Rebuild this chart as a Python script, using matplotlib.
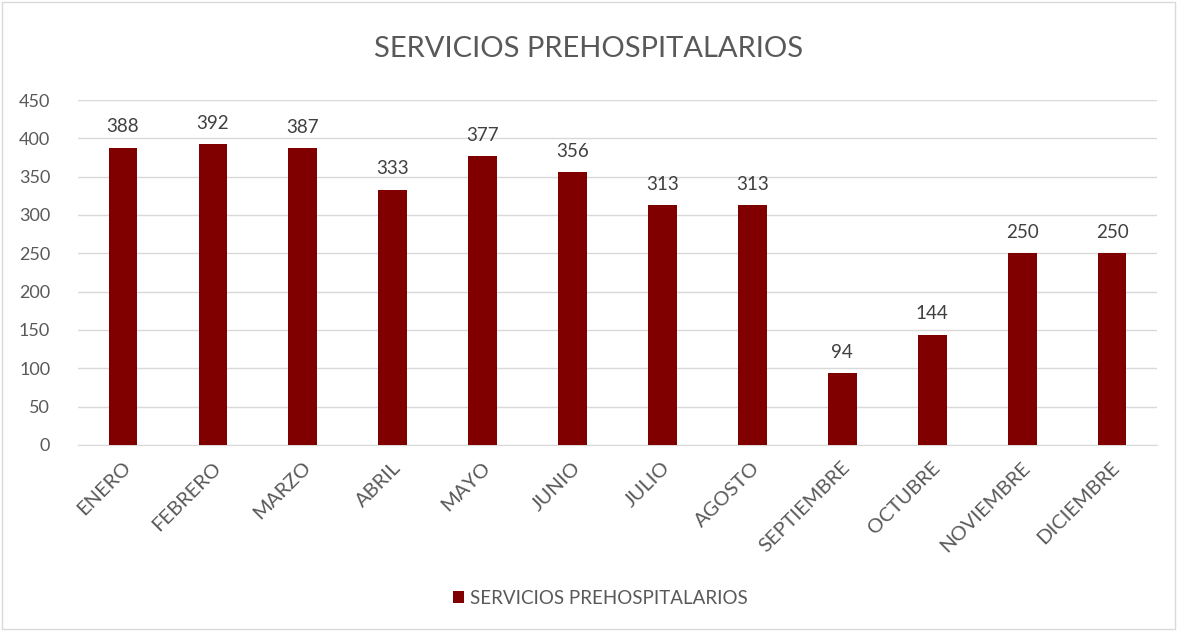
import matplotlib.pyplot as plt
from matplotlib.patches import Rectangle
from matplotlib.transforms import ScaledTranslation

meses = ["ENERO", "FEBRERO", "MARZO", "ABRIL", "MAYO", "JUNIO",
         "JULIO", "AGOSTO", "SEPTIEMBRE", "OCTUBRE", "NOVIEMBRE", "DICIEMBRE"]
servicios = [388, 392, 387, 333, 377, 356, 313, 313, 94, 144, 250, 250]
serie = "SERVICIOS PREHOSPITALARIOS"

gris = "#595959"
rojo = "#800000"

plt.rcParams["font.family"] = ["Lato", "DejaVu Sans"]

fig = plt.figure(figsize=(11.77, 6.31), dpi=100)
ax = fig.add_axes([0.0663, 0.295, 0.9167, 0.5465])

x = range(len(meses))
bars = ax.bar(x, servicios, width=0.32, color=rojo, label=serie, zorder=3)

for b, v in zip(bars, servicios):
    ax.text(b.get_x() + b.get_width() / 2, v + 16, str(v),
            ha="center", va="bottom", fontsize=13.5, color="#404040")

ax.set_ylim(0, 450)
ax.set_xlim(-0.5, len(meses) - 0.5)
ax.set_yticks(range(0, 451, 50))
ax.yaxis.grid(True, color="#d9d9d9", linewidth=1, zorder=0)
ax.set_xticks(list(x))
ax.set_xticklabels(meses, rotation=45, ha="right", rotation_mode="anchor")
ax.tick_params(axis="y", length=0, labelsize=13, colors=gris, pad=20)
ax.tick_params(axis="x", length=0, labelsize=14.5, colors=gris, pad=10)

# ajustar posicion horizontal de las etiquetas del eje x
offset = ScaledTranslation(-1 / 100, 0, fig.dpi_scale_trans)
for lab in ax.get_xticklabels():
    lab.set_transform(lab.get_transform() + offset)

for s in ["top", "right", "left"]:
    ax.spines[s].set_visible(False)
ax.spines["bottom"].set_color("#d9d9d9")

fig.text(0.5, 0.923, serie, ha="center", va="center",
         fontsize=21, color=gris)

fig.legend(loc="center", bbox_to_anchor=(0.51, 0.052), frameon=False,
           fontsize=13.5, labelcolor=gris, handlelength=0.6, handleheight=0.6,
           handletextpad=0.3)

fig.patches.append(Rectangle((0.002, 0.003), 0.996, 0.994, transform=fig.transFigure,
                             fill=False, edgecolor="#d9d9d9", linewidth=1))

fig.savefig("out.png", dpi=100)
